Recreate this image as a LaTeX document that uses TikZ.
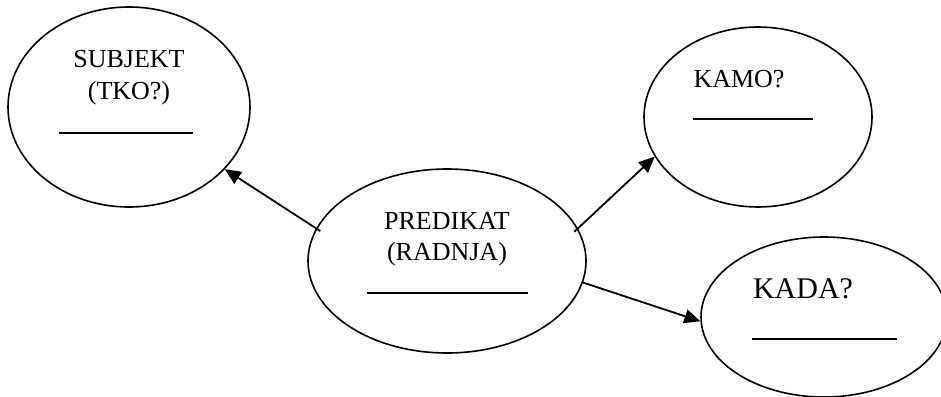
\documentclass[tikz,border=0pt]{standalone}
\usepackage{fontspec}
\setmainfont{Liberation Serif}
\usetikzlibrary{shapes.geometric,arrows.meta}
\tikzset{
  bubble/.style={draw, ellipse, line width=1.6pt, inner sep=0pt},
  lbl/.style={anchor=base, inner sep=0pt, font=\fontsize{26}{30}\selectfont},
  biglbl/.style={anchor=base, inner sep=0pt, font=\fontsize{30}{34}\selectfont},
  blank/.style={line width=2pt},
  conn/.style={line width=1.8pt, -{Triangle[length=16pt,width=14pt]}}
}
\begin{document}
\begin{tikzpicture}[x=1pt,y=-1pt]
\useasboundingbox (0,0) rectangle (941,396);
% ellipses
\node[bubble, minimum width=242pt, minimum height=200pt] (s) at (129,107) {};
\node[bubble, minimum width=278pt, minimum height=184pt] (p) at (447,261) {};
\node[bubble, minimum width=228pt, minimum height=180pt] (k) at (758,117) {};
\node[bubble, minimum width=246pt, minimum height=160pt] (d) at (824,317) {};
% texts
\node[lbl] (s1) at (129,67) {SUBJEKT};
\node[lbl] (s2) at (129,99) {(TKO?)};
\node[lbl] (p1) at (447,229) {PREDIKAT};
\node[lbl] (p2) at (447,260) {(RADNJA)};
\node[lbl] (k1) at (739,87) {KAMO?};
\node[biglbl] (d1) at (803,298) {KADA?};
% blanks
\draw[blank] (59,133) -- (193,133);
\draw[blank] (367,293) -- (528,293);
\draw[blank] (693,119) -- (813,119);
\draw[blank] (752,339) -- (897,339);
% connectors
\draw[conn, shorten <=-5pt] (p.166) -- (s.-33);
\draw[conn, shorten <=-5pt] (p.14) -- (k.-159);
\draw[conn] (p.-9) -- (d.182);
\end{tikzpicture}
\end{document}
